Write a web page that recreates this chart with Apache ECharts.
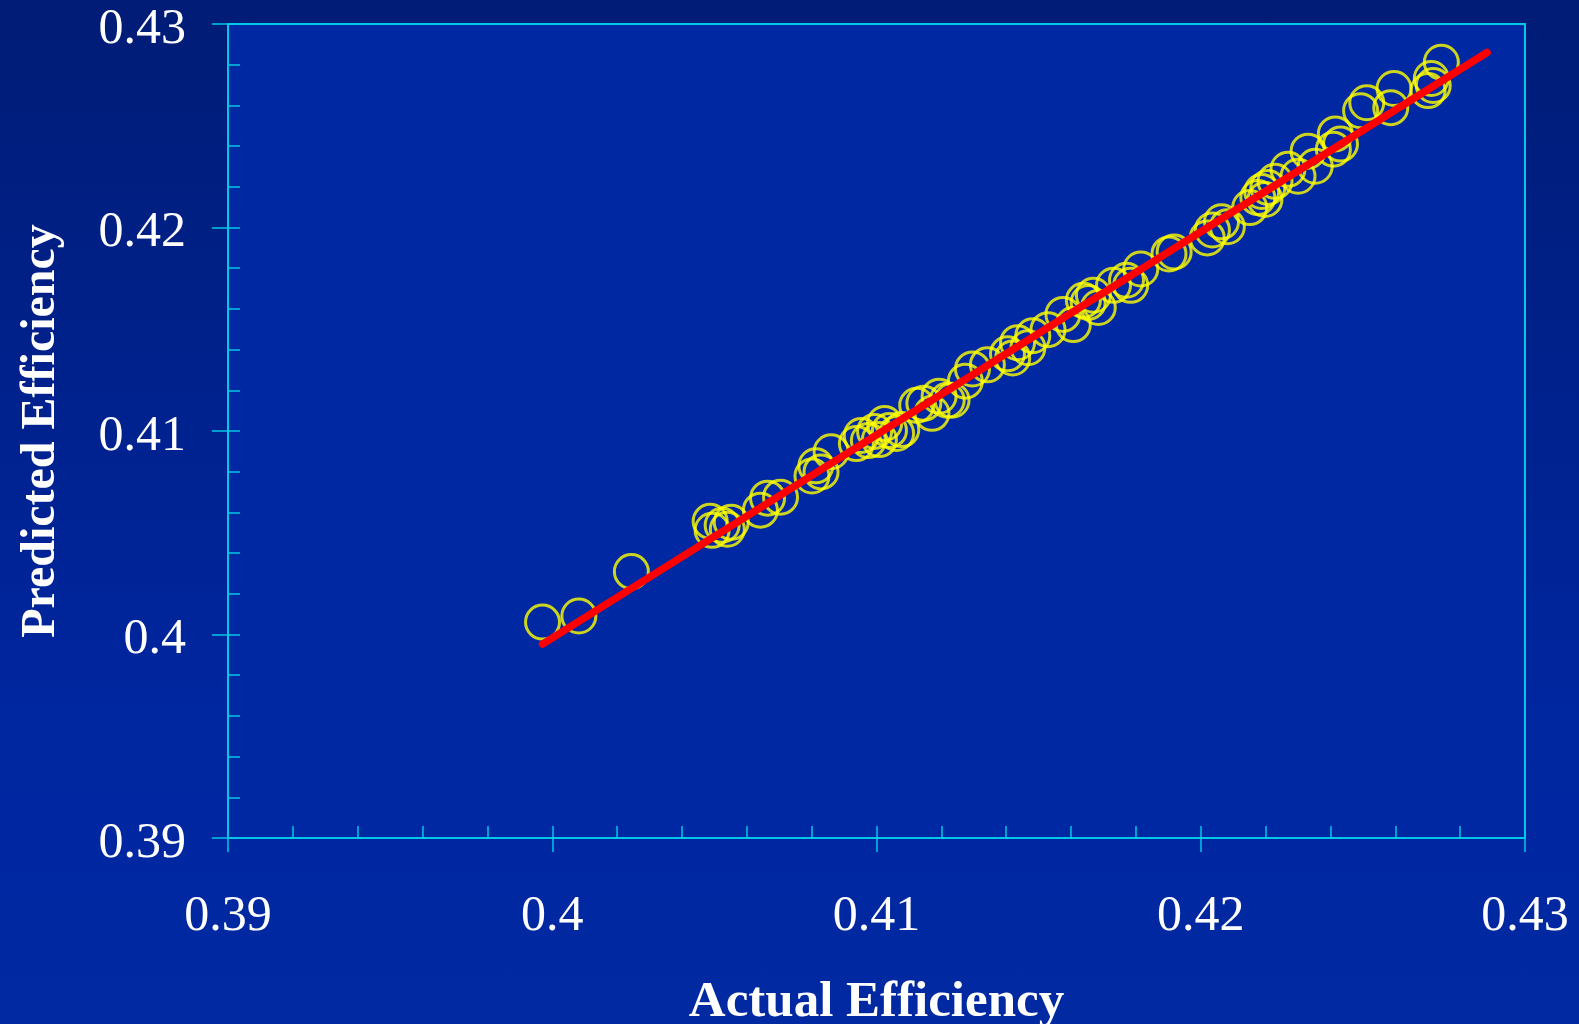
<!DOCTYPE html>
<html>
<head>
<meta charset="utf-8">
<script src="https://cdn.jsdelivr.net/npm/echarts@6/dist/echarts.min.js"></script>
<style>
html,body{margin:0;padding:0;width:1579px;height:1024px;overflow:hidden;background:linear-gradient(#001c76,#0026a0 70%,#0029a2);}
#chart{width:1579px;height:1024px;}
</style>
</head>
<body>
<div id="chart"></div>
<script>
var actual = [0.39970,0.40082,0.40244,0.40487,0.40493,0.40524,0.40552,0.40540,0.40642,0.40664,0.40704,0.40801,0.40813,0.40829,0.40860,0.40938,0.40953,0.40975,0.40994,0.41009,0.41025,0.41040,0.41062,0.41078,0.41124,0.41146,0.41171,0.41193,0.41218,0.41233,0.41274,0.41296,0.41342,0.41404,0.41420,0.41435,0.41467,0.41482,0.41529,0.41575,0.41607,0.41638,0.41669,0.41684,0.41653,0.41731,0.41771,0.41784,0.41815,0.41918,0.41902,0.42020,0.42036,0.42064,0.42082,0.42151,0.42176,0.42188,0.42207,0.42198,0.42229,0.42269,0.42300,0.42331,0.42353,0.42409,0.42415,0.42431,0.42493,0.42512,0.42586,0.42596,0.42701,0.42711,0.42717,0.42742];
var predicted = [0.40061,0.40091,0.40309,0.40556,0.40512,0.40537,0.40551,0.40517,0.40611,0.40670,0.40675,0.40779,0.40829,0.40799,0.40898,0.40938,0.40978,0.40953,0.40998,0.40958,0.41037,0.41003,0.40988,0.41007,0.41126,0.41136,0.41087,0.41171,0.41151,0.41151,0.41245,0.41305,0.41325,0.41379,0.41359,0.41434,0.41409,0.41468,0.41498,0.41573,0.41523,0.41642,0.41667,0.41607,0.41632,0.41716,0.41741,0.41716,0.41796,0.41880,0.41870,0.41949,0.41988,0.42028,0.42004,0.42098,0.42147,0.42177,0.42197,0.42138,0.42227,0.42286,0.42252,0.42375,0.42301,0.42385,0.42460,0.42410,0.42574,0.42613,0.42589,0.42683,0.42673,0.42732,0.42698,0.42812];
var fitX = [0.39970, 0.42883];
var fitY = [0.39953, 0.42860];
var tickValues = [0.39, 0.40, 0.41, 0.42, 0.43];
var tickLabels = ['0.39', '0.4', '0.41', '0.42', '0.43'];

function labelFor(v){
  for (var i=0;i<tickValues.length;i++){ if (Math.abs(v - tickValues[i]) < 1e-7) return tickLabels[i]; }
  return '';
}
var points = actual.map(function(a,i){ return [a, predicted[i]]; });
var fitLine = fitX.map(function(a,i){ return [a, fitY[i]]; });

var axisColor = '#00c8e6';
var labelFont = {color:'#ffffff', fontFamily:'Liberation Serif', fontSize:50};
var chart = echarts.init(document.getElementById('chart'), null, {renderer:'canvas'});
chart.setOption({
  backgroundColor: 'transparent',
  animation: false,
  grid: {left:228, top:24, right:54, bottom:186, containLabel:false, outerBoundsMode:'none',
         show:true, backgroundColor:'#0028a2', borderColor:axisColor, borderWidth:2},
  xAxis: [
    {type:'value', min:0.39, max:0.43, interval:0.002, position:'bottom',
     axisLine:{show:true, lineStyle:{color:axisColor, width:2}},
     axisTick:{show:true, inside:true, length:12, lineStyle:{color:axisColor, width:1.5}},
     axisLabel:{show:false}, splitLine:{show:false},
     name:'Actual Efficiency', nameLocation:'middle', nameGap:139,
     nameTextStyle:{color:'#ffffff', fontFamily:'Liberation Serif', fontSize:51, fontWeight:'bold'}},
    {type:'value', min:0.39, max:0.43, interval:0.01, position:'bottom',
     axisLine:{show:false},
     axisTick:{show:true, inside:false, length:14, lineStyle:{color:axisColor, width:1.5}},
     axisLabel:Object.assign({margin:54, formatter:function(v){return labelFor(v);}}, labelFont),
     splitLine:{show:false}}
  ],
  yAxis: [
    {type:'value', min:0.39, max:0.43, interval:0.002, position:'left',
     axisLine:{show:true, lineStyle:{color:axisColor, width:2}},
     axisTick:{show:true, inside:true, length:12, lineStyle:{color:axisColor, width:1.5}},
     axisLabel:{show:false}, splitLine:{show:false},
     name:'Predicted Efficiency', nameLocation:'middle', nameGap:162, nameRotate:90,
     nameTextStyle:{color:'#ffffff', fontFamily:'Liberation Serif', fontSize:48, fontWeight:'bold'}},
    {type:'value', min:0.39, max:0.43, interval:0.01, position:'left',
     axisLine:{show:false},
     axisTick:{show:true, inside:false, length:16, lineStyle:{color:axisColor, width:1.5}},
     axisLabel:Object.assign({margin:42,
       formatter:function(v){var s = labelFor(v); return s ? '{a|' + s + '}' : '';},
       rich:{a:{color:'#ffffff', fontFamily:'Liberation Serif', fontSize:50, padding:[11,0,0,0]}}}, labelFont),
     splitLine:{show:false}}
  ],
  series: [
    {type:'scatter', xAxisIndex:0, yAxisIndex:0, data:points, symbol:'circle', symbolSize:34,
     itemStyle:{color:'rgba(0,0,0,0)', borderColor:'#ffff00', borderWidth:3}},
    {type:'line', xAxisIndex:0, yAxisIndex:0, data:fitLine, symbol:'none',
     lineStyle:{color:'#ff0000', width:7.5, cap:'round'}}
  ]
});
</script>
</body>
</html>
